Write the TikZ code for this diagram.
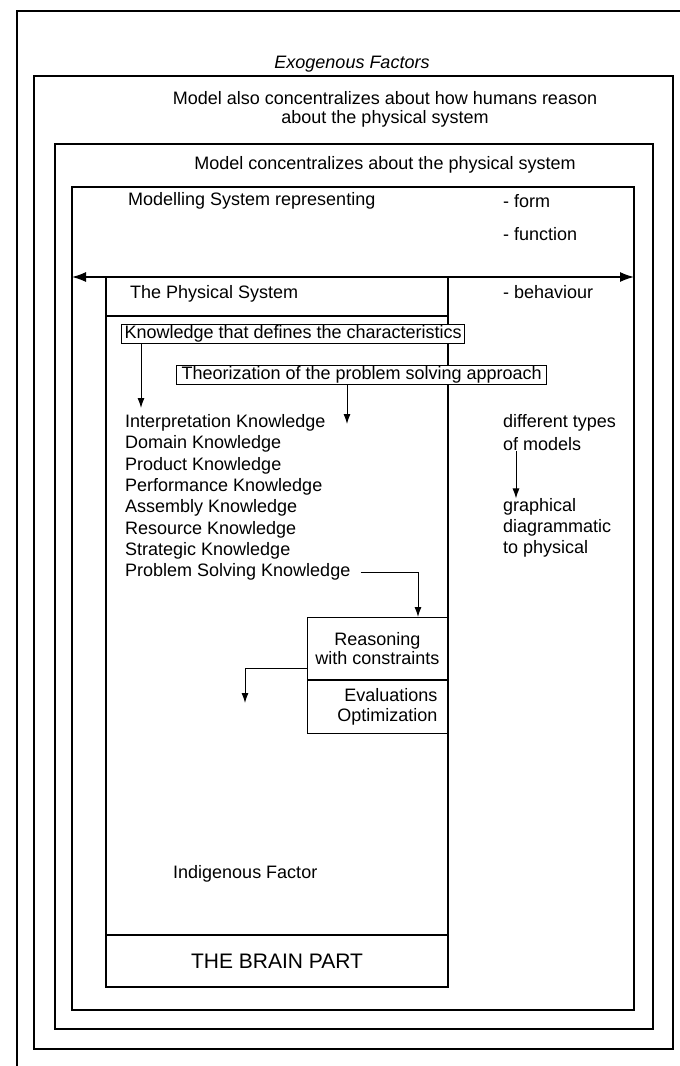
\documentclass[tikz,border=0pt]{standalone}
\usepackage{fontspec}
\setmainfont{Liberation Sans}
\usetikzlibrary{arrows.meta,positioning}

\tikzset{
  frame/.style={draw,line width=1.3pt},
  txt/.style={inner sep=0pt,anchor=west},
  tbox/.style={draw,line width=1.1pt,fill=white,inner xsep=3pt,inner ysep=1pt},
  flow/.style={draw,line width=1pt,-{Latex[length=10pt,width=7pt]}},
}

\begin{document}
\begin{tikzpicture}[x=1pt,y=-1pt,font=\fontsize{18}{21.3}\selectfont]
    \useasboundingbox (0,0) rectangle (680,1066);

    \draw[frame] (17,1066) -- (17,11) -- (680,11);
    \draw[frame] (34,76) rectangle (673,1049);
    \draw[frame] (55,144) rectangle (653,1029);
    \draw[frame] (72,187) rectangle (634,1010);

    \node (exo) at (352,64) {\itshape Exogenous Factors};
    \node[align=center,font=\fontsize{18}{19}\selectfont] (human) at (385,109)
        {Model also concentralizes about how humans reason\\about the physical system};
    \node (model) at (385,165) {Model concentralizes about the physical system};

    \node[txt] (repr) at (128,201) {Modelling System representing};
    \node[txt] (form) at (503,201) {- form};
    \node[txt] (func) at (503,234) {- function};
    \node[txt] (behav) at (503,292) {- behaviour};

    \coordinate (al) at (72,277);
    \coordinate (ar) at (634,277);
    \draw[line width=1.3pt,{Latex[length=14pt,width=10pt]}-{Latex[length=14pt,width=10pt]}] (al) -- (ar);

    \draw[frame] (106,277) rectangle (448,316);
    \node[txt] (physsys) at (130,294) {The Physical System};
    \draw[frame] (106,316) -- (106,987) -- (448,987) -- (448,316);
    \draw[frame] (106,935) -- (448,935);
    \node (brain) at (277,961) {\fontsize{21}{24}\selectfont THE BRAIN PART};

    \node[tbox,anchor=west] (know) at (121,334) {Knowledge that defines the characteristics};
    \node[tbox,anchor=west,inner xsep=5pt] (theo) at (176,375) {Theorization of the problem solving approach};

    \coordinate (ka) at (141,408);
    \coordinate (ta) at (347,424);
    \draw[flow] (know.south -| ka) -- (ka);
    \draw[flow] (theo.south -| ta) -- (ta);

    \foreach \k [count=\i from 0] in {Interpretation,Domain,Product,Performance,Assembly,Resource,Strategic,Problem Solving}
        \node[txt] (k\i) at (125,423+21.3*\i) {\k\ Knowledge};

    \node[tbox,anchor=north east,minimum width=140pt,minimum height=62pt,align=center,
          font=\fontsize{18}{19}\selectfont] (reas) at (448,617) {Reasoning\\with constraints};
    \node[tbox,below=0pt of reas,minimum width=140pt,minimum height=53pt,text width=120pt,align=right,
          font=\fontsize{18}{20}\selectfont] (eval) {Evaluations\\Optimization};

    \draw[flow] ([xshift=10pt]k7.east) -| ([xshift=-30pt]reas.north east);
    \coordinate (ra) at (245,703);
    \draw[flow] ([yshift=-20pt]reas.west) -| (ra);

    \node[txt] (types) at (503,423) {different types};
    \node[txt] (models) at (503,444) {of models};
    \node[txt] (graph) at (503,507) {graphical};
    \node[txt] (diag) at (503,528) {diagrammatic};
    \node[txt] (tophys) at (503,549) {to physical};
    \draw[flow] ([xshift=13pt]models.south west) -- ([xshift=13pt]graph.north west);

    \node[txt] (indig) at (173,874) {Indigenous Factor};
\end{tikzpicture}
\end{document}
